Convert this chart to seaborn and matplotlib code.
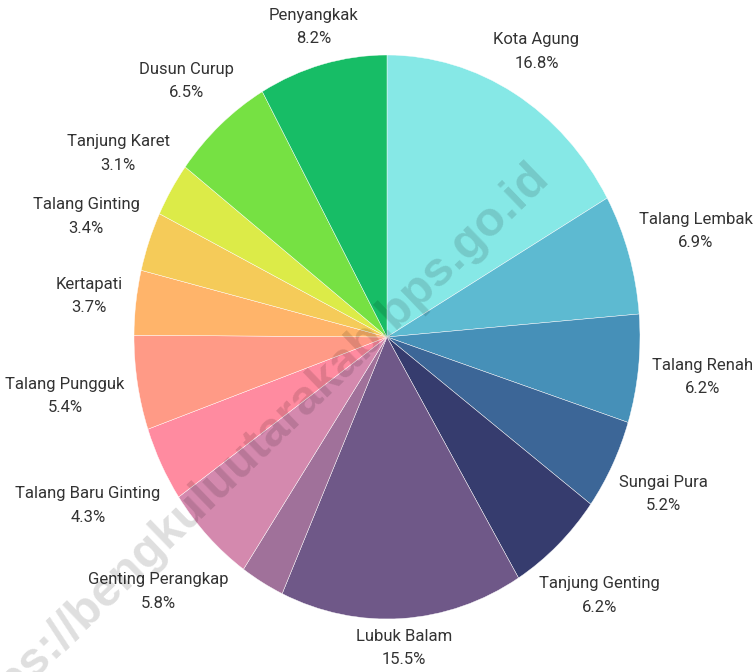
import numpy as np
import matplotlib
matplotlib.use("Agg")
import matplotlib.pyplot as plt
import seaborn as sns

categories = ["Kota Agung", "Talang Lembak", "Talang Renah", "Sungai Pura",
              "Tanjung Genting", "Lubuk Balam", "", "Genting Perangkap",
              "Talang Baru Ginting", "Talang Pungguk", "Kertapati",
              "Talang Ginting", "Tanjung Karet", "Dusun Curup", "Penyangkak"]
values = [16.8, 6.9, 6.2, 5.2, 6.2, 15.5, 2.8, 5.8, 4.3, 5.4, 3.7, 3.4, 3.1, 6.5, 8.2]
colors = ["#86E8E6", "#5DBAD1", "#4690B8", "#3C6697", "#363C6E", "#6F5888",
          "#A0719A", "#D489AE", "#FF8BA0", "#FF9A86", "#FFB46A", "#F5CB59",
          "#DCEB48", "#76E143", "#17BD66"]
watermark = "https://bengkuluutarakab.bps.go.id"

sns.set_theme(style="white")
plt.rcParams["font.family"] = ["Roboto", "DejaVu Sans"]

W, H = 754, 672
cx, cy, rx, ry = 387, 337, 253, 282

fig = plt.figure(figsize=(W / 100, H / 100), dpi=100)
ax = fig.add_axes([0, 0, 1, 1])
palette = sns.color_palette(colors)
wedges, _ = ax.pie(values, colors=palette, startangle=90, counterclock=False,
                   wedgeprops=dict(edgecolor="#ffffff", linewidth=0.3))
ax.set_aspect("auto")
ax.set_xlim(-cx / rx, (W - cx) / rx)
ax.set_ylim(-(H - cy) / ry, cy / ry)
ax.axis("off")

texts = []
for w, name, v in zip(wedges, categories, values):
    if not name:
        continue
    mid = np.deg2rad((w.theta1 + w.theta2) / 2)
    t = ax.text(np.cos(mid), np.sin(mid), f"{name}\n{v:.1f}%",
                ha="center", va="center", multialignment="center",
                fontsize=12, color="#333333", linespacing=1.7)
    texts.append((t, mid))

fig.canvas.draw()
renderer = fig.canvas.get_renderer()
for t, mid in texts:
    bb = t.get_window_extent(renderer)
    hw = bb.width / 2
    r = 1.05 + hw * abs(np.cos(mid)) / rx + 12 * abs(np.sin(mid)) / ry
    t.set_position((r * np.cos(mid), r * np.sin(mid)))

fig.text(542 / W, 1 - 170 / H, watermark, rotation=44, rotation_mode="anchor",
         ha="right", va="center", fontsize=35, fontweight="bold",
         family=["Liberation Sans", "DejaVu Sans"], color="black", alpha=0.13,
         zorder=10)

fig.savefig("out.png", dpi=100, facecolor="white")
